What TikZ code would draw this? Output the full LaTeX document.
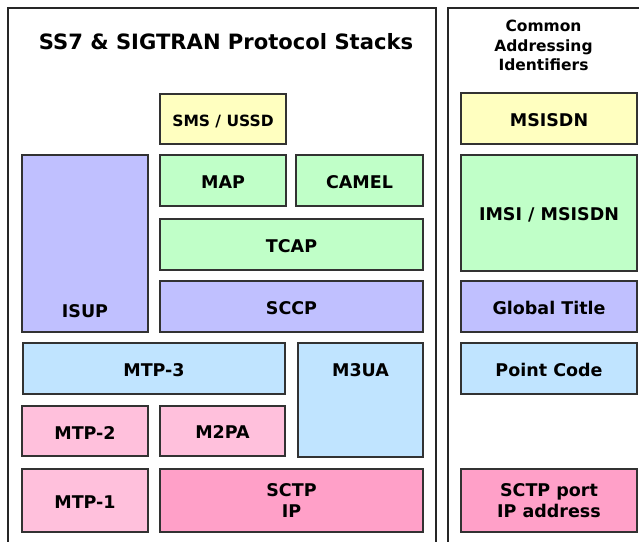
\documentclass[tikz,border=0pt]{standalone}
\usepackage{fontspec}
\setmainfont{DejaVu Sans}
\definecolor{cyellow}{RGB}{255,255,192}
\definecolor{cgreen}{RGB}{192,255,200}
\definecolor{cviolet}{RGB}{192,192,255}
\definecolor{cblue}{RGB}{192,228,255}
\definecolor{cpink}{RGB}{255,192,220}
\definecolor{cdpink}{RGB}{255,160,200}
\definecolor{cborder}{RGB}{50,50,50}
\tikzset{
  stackbox/.style={draw=cborder, line width=1.3bp, inner sep=0pt, align=center,
    font=\fontsize{17.5bp}{20.5bp}\selectfont\bfseries},
  lowered/.style={text height=15.6bp, text depth=0bp},
  frame/.style={draw=black!85, line width=1.1bp},
}
\begin{document}
\begin{tikzpicture}[x=1bp,y=-1bp]
\useasboundingbox (0,0) rectangle (639,542);
\clip (0,0) rectangle (639,542);
% frames
\draw[frame] (8,8) rectangle (436,560);
\draw[frame] (448,8) rectangle (660,560);
% titles
\node[anchor=base, font=\fontsize{21.1bp}{25bp}\selectfont\bfseries] (title) at (226,50) {SS7 \& SIGTRAN Protocol Stacks};
\node[anchor=base, font=\fontsize{15.5bp}{19.5bp}\selectfont\bfseries] (t1) at (543.5,32) {Common};
\node[anchor=base, font=\fontsize{15.5bp}{19.5bp}\selectfont\bfseries] (t2) at (543.5,52) {Addressing};
\node[anchor=base, font=\fontsize{15.5bp}{19.5bp}\selectfont\bfseries] (t3) at (543.5,71) {Identifiers};
% left stack
\node[stackbox, fill=cyellow, minimum width=126bp, minimum height=50bp, text height=14.5bp, text depth=0bp,
  font=\fontsize{15.5bp}{19bp}\selectfont\bfseries] (sms) at (223,119) {SMS / USSD};
\node[stackbox, fill=cviolet, minimum width=126bp, minimum height=177bp,
  label={[anchor=base, yshift=15.5bp, font=\fontsize{17.5bp}{20.5bp}\selectfont\bfseries]south:ISUP}] (isup) at (85,243.5) {};
\node[stackbox, lowered, fill=cgreen, minimum width=126bp, minimum height=51bp] (map) at (223,180.5) {MAP};
\node[stackbox, lowered, fill=cgreen, minimum width=127bp, minimum height=51bp] (camel) at (359.5,180.5) {CAMEL};
\node[stackbox, lowered, fill=cgreen, minimum width=263bp, minimum height=51bp] (tcap) at (291.5,244.5) {TCAP};
\node[stackbox, lowered, fill=cviolet, minimum width=263bp, minimum height=51bp] (sccp) at (291.5,306.5) {SCCP};
\node[stackbox, lowered, fill=cblue, minimum width=262bp, minimum height=51bp] (mtp3) at (154,368.5) {MTP-3};
\node[stackbox, fill=cblue, minimum width=125bp, minimum height=114bp,
  label={[anchor=base, yshift=-34.5bp, font=\fontsize{17.5bp}{20.5bp}\selectfont\bfseries]north:M3UA}] (m3ua) at (360.5,400) {};
\node[stackbox, lowered, fill=cpink, minimum width=126bp, minimum height=50bp, text height=17bp] (mtp2) at (85,431) {MTP-2};
\node[stackbox, lowered, fill=cpink, minimum width=125bp, minimum height=50bp] (m2pa) at (222.5,431) {M2PA};
\node[stackbox, lowered, fill=cpink, minimum width=126bp, minimum height=63bp] (mtp1) at (85,500.5) {MTP-1};
\node[stackbox, fill=cdpink, minimum width=263bp, minimum height=63bp] (sctp) at (291.5,500.5) {SCTP\\IP};
% right column
\node[stackbox, lowered, fill=cyellow, minimum width=176bp, minimum height=51bp] (msisdn) at (549,118.5) {MSISDN};
\node[stackbox, lowered, fill=cgreen, minimum width=176bp, minimum height=116bp] (imsi) at (549,213) {IMSI / MSISDN};
\node[stackbox, lowered, fill=cviolet, minimum width=176bp, minimum height=51bp] (gt) at (549,306.5) {Global Title};
\node[stackbox, lowered, fill=cblue, minimum width=176bp, minimum height=51bp] (pc) at (549,368.5) {Point Code};
\node[stackbox, fill=cdpink, minimum width=176bp, minimum height=63bp] (sctpport) at (549,500.5) {SCTP port\\IP address};
\end{tikzpicture}
\end{document}
